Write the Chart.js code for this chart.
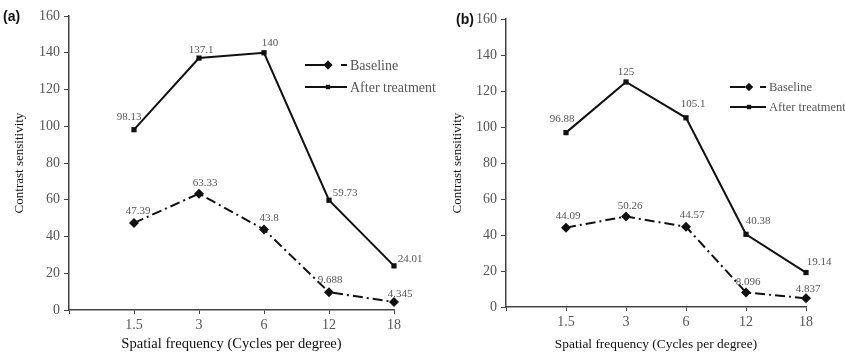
<!DOCTYPE html>
<html>
<head>
<meta charset="utf-8">
<script src="https://cdn.jsdelivr.net/npm/chart.js@4.4.1/dist/chart.umd.min.js"></script>
<style>
  html, body { margin: 0; padding: 0; background: #fff; }
  #wrap { position: relative; width: 845px; height: 354px; overflow: hidden; }
  #wrap canvas { position: absolute; top: 0; }
</style>
</head>
<body>
<div id="wrap">
  <canvas id="chartA" width="445" height="354" style="left:0px"></canvas>
  <canvas id="chartB" width="415" height="354" style="left:430px"></canvas>
</div>
<script>
// Datos
const frequencies = ["1.5", "3", "6", "12", "18"]
const yTicks = [0, 20, 40, 60, 80, 100, 120, 140, 160]

const baselineA = [47.39, 63.33, 43.8, 9.688, 4.345]
const afterA = [98.13, 137.1, 140, 59.73, 24.01]
const baselineLabelsA = ["47.39", "63.33", "43.8", "9.688", "4.345"]
const afterLabelsA = ["98.13", "137.1", "140", "59.73", "24.01"]

const baselineB = [44.09, 50.26, 44.57, 8.096, 4.837]
const afterB = [96.88, 125, 105.1, 40.38, 19.14]
const baselineLabelsB = ["44.09", "50.26", "44.57", "8.096", "4.837"]
const afterLabelsB = ["96.88", "125", "105.1", "40.38", "19.14"]

const GREY = "#555"
const INK = "#111"
const SERIF = "'Liberation Serif', 'DejaVu Serif', serif"

// offsets de etiquetas (px) por panel
const labelOffsets = {
  A: {
    base: [[4, -12], [6, -11], [5, -11], [1, -12], [6, -8]],
    after: [[-5, -13], [2, -8], [6, -10], [16, -7], [16, -7]],
  },
  B: {
    base: [[2, -12], [4, -10], [6, -12], [2, -10], [2, -9]],
    after: [[-4, -14], [0, -10], [7, -14], [12, -13], [13, -10]],
  },
}

function marker(ctx, style, r, x, y) {
  Chart.helpers.drawPoint(ctx, { pointStyle: style, radius: r, borderWidth: 0, rotation: 0 }, x, y)
  ctx.fillStyle = INK
  ctx.fill()
}

// Plugin: etiquetas de datos, leyenda y letra de panel
const decorPlugin = {
  id: "decor",
  afterDatasetsDraw(chart, args, opts) {
    const ctx = chart.ctx
    ctx.save()
    // etiquetas de datos
    ctx.font = "11px " + SERIF
    ctx.fillStyle = GREY
    ctx.textAlign = "center"
    ctx.textBaseline = "middle"
    chart.data.datasets.forEach((ds, i) => {
      const meta = chart.getDatasetMeta(i)
      const offs = opts.offsets[ds.key]
      meta.data.forEach((pt, j) => {
        if (ds.data[j] == null) return
        const o = offs[j - 1]
        ctx.fillText(ds.valueLabels[j - 1], pt.x + o[0], pt.y + o[1])
      })
    })
    // leyenda
    const lg = opts.legend
    ctx.strokeStyle = INK
    ctx.lineWidth = 2
    chart.data.datasets.forEach((ds, i) => {
      const y = lg.y + i * lg.rowGap
      const mx = lg.x + lg.mark
      ctx.beginPath()
      if (ds.key === "base") {
        ctx.moveTo(lg.x, y)
        ctx.lineTo(mx - 4, y)
        ctx.moveTo(lg.x + lg.len - 6, y)
        ctx.lineTo(lg.x + lg.len, y)
      } else {
        ctx.moveTo(lg.x, y)
        ctx.lineTo(lg.x + lg.len, y)
      }
      ctx.stroke()
      marker(ctx, ds.pointStyle, ds.key === "base" ? lg.diamond : lg.square, mx, y)
      ctx.fillStyle = GREY
      ctx.font = lg.font + "px " + SERIF
      ctx.textAlign = "left"
      ctx.fillText(ds.label, lg.x + lg.len + 3, y + 1)
    })
    // letra del panel
    ctx.font = "bold 14px 'Liberation Sans', Arial, sans-serif"
    ctx.fillStyle = INK
    ctx.textAlign = "left"
    ctx.fillText(opts.panel.text, opts.panel.x, opts.panel.y)
    ctx.restore()
  },
}

function makePanel(canvasId, base, after, baseLabels, afterLabels, layout) {
  const ctx = document.getElementById(canvasId).getContext("2d")
  return new Chart(ctx, {
    type: "line",
    data: {
      labels: [""].concat(frequencies),
      datasets: [
        {
          key: "base",
          label: "Baseline",
          data: [null].concat(base),
          valueLabels: baseLabels,
          borderColor: INK,
          backgroundColor: INK,
          borderWidth: 2,
          borderDash: [10, 4, 2, 4],
          pointStyle: "rectRot",
          pointRadius: 5,
          pointBorderWidth: 0,
          tension: 0,
        },
        {
          key: "after",
          label: "After treatment",
          data: [null].concat(after),
          valueLabels: afterLabels,
          borderColor: INK,
          backgroundColor: INK,
          borderWidth: 2,
          pointStyle: "rect",
          pointRadius: 3.7,
          pointBorderWidth: 0,
          tension: 0,
        },
      ],
    },
    options: {
      responsive: false,
      animation: false,
      layout: { padding: { top: layout.top, right: layout.right, left: 0, bottom: 0 } },
      plugins: {
        legend: { display: false },
        tooltip: { enabled: false },
        decor: { offsets: layout.offsets, legend: layout.legend, panel: layout.panel },
      },
      scales: {
        x: {
          type: "category",
          offset: false,
          afterFit: (s) => { s.height = layout.xHeight },
          grid: { drawOnChartArea: false, drawTicks: true, tickLength: 4, color: "#444" },
          border: { display: true, color: "#444", width: 1.5 },
          ticks: { color: GREY, font: { family: SERIF, size: 14 }, padding: 3, maxRotation: 0 },
          title: {
            display: true,
            text: "Spatial frequency (Cycles per degree)",
            color: INK,
            font: { family: SERIF, size: layout.xTitleSize },
            padding: { top: 2, bottom: 1 },
          },
        },
        y: {
          min: 0,
          max: 160,
          afterFit: (s) => { s.width = layout.yWidth },
          afterBuildTicks: (s) => { s.ticks = yTicks.map((v) => ({ value: v })) },
          grid: { drawOnChartArea: false, drawTicks: true, tickLength: 5, color: "#444" },
          border: { display: true, color: "#444", width: 1.5 },
          ticks: { color: GREY, font: { family: SERIF, size: 14 }, padding: 4 },
          title: {
            display: true,
            text: "Contrast sensitivity",
            color: INK,
            font: { family: SERIF, size: 13 },
            padding: { top: layout.yTitlePad, bottom: 0 },
          },
        },
      },
    },
    plugins: [decorPlugin],
  })
}

makePanel("chartA", baselineA, afterA, baselineLabelsA, afterLabelsA, {
  top: 16, right: 51, xHeight: 44, yWidth: 69, yTitlePad: 12, xTitleSize: 14.6,
  offsets: labelOffsets.A,
  legend: { x: 305, y: 65, rowGap: 22, len: 42, mark: 23, diamond: 4.5, square: 3, font: 14 },
  panel: { text: "(a)", x: 3, y: 17 },
})

makePanel("chartB", baselineB, afterB, baselineLabelsB, afterLabelsB, {
  top: 19, right: 39, xHeight: 47, yWidth: 76, yTitlePad: 20, xTitleSize: 13.4,
  offsets: labelOffsets.B,
  legend: { x: 300, y: 87, rowGap: 20, len: 36, mark: 19, diamond: 4, square: 3, font: 12.5 },
  panel: { text: "(b)", x: 26, y: 20 },
})
</script>
</body>
</html>
